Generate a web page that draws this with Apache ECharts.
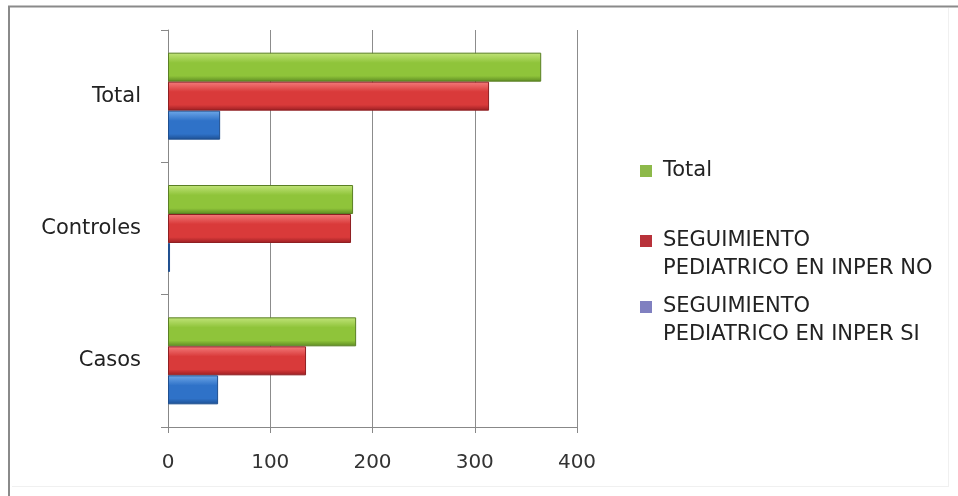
<!DOCTYPE html>
<html>
<head>
<meta charset="utf-8">
<style>
  html, body { margin: 0; padding: 0; background: #ffffff; }
  #chart { width: 958px; height: 496px; }
</style>
<script src="https://cdn.jsdelivr.net/npm/echarts@6/dist/echarts.min.js"></script>
</head>
<body>
<div id="chart"></div>
<script>
// Categories (bottom to top) and series values
const categories = ['Casos', 'Controles', 'Total'];
const seguimientoSi = [49, 2, 51];
const seguimientoNo = [135, 179, 314];
const totales = [184, 181, 365];
const xTicks = [0, 100, 200, 300, 400];

const NAME_SI = 'SEGUIMIENTO PEDIATRICO EN INPER SI';
const NAME_NO = 'SEGUIMIENTO PEDIATRICO EN INPER NO';
const NAME_TOTAL = 'Total';

const FONT = '"DejaVu Sans", "Liberation Sans", sans-serif';

function barGradient(light, mid, dark) {
  return new echarts.graphic.LinearGradient(0, 0, 0, 1, [
    { offset: 0, color: light },
    { offset: 0.35, color: mid },
    { offset: 0.8, color: mid },
    { offset: 1, color: dark }
  ]);
}

const chart = echarts.init(document.getElementById('chart'), null, { renderer: 'canvas' });

// Two-line legend labels: a leading blank line keeps the marker beside the first line
function twoLine(name) {
  return '\n' + name.replace('SEGUIMIENTO ', 'SEGUIMIENTO\n');
}

const legendText = { fontFamily: FONT, fontSize: 21, color: '#222', lineHeight: 28, padding: [0, 0, 0, 6] };

const option = {
  backgroundColor: '#ffffff',
  animation: false,
  graphic: [
    { type: 'line', shape: { x1: 8, y1: 6.5, x2: 958, y2: 6.5 }, style: { stroke: '#8a8a8a', lineWidth: 2 } },
    { type: 'line', shape: { x1: 9, y1: 6, x2: 9, y2: 496 }, style: { stroke: '#8a8a8a', lineWidth: 2 } },
    { type: 'line', shape: { x1: 948.5, y1: 8, x2: 948.5, y2: 487 }, style: { stroke: '#f0f0f0', lineWidth: 1 } },
    { type: 'line', shape: { x1: 12, y1: 486.5, x2: 948, y2: 486.5 }, style: { stroke: '#f0f0f0', lineWidth: 1 } }
  ],
  legend: [
    {
      left: 635, top: 152, orient: 'vertical',
      icon: 'rect', itemWidth: 12, itemHeight: 12,
      data: [{ name: NAME_TOTAL, itemStyle: { color: '#8db94a', borderWidth: 0 } }],
      textStyle: legendText,
      selectedMode: false
    },
    {
      left: 635, top: 194, orient: 'vertical',
      icon: 'rect', itemWidth: 12, itemHeight: 12,
      data: [{ name: NAME_NO, itemStyle: { color: '#b8323a', borderWidth: 0 } }],
      formatter: twoLine,
      textStyle: legendText,
      selectedMode: false
    },
    {
      left: 635, top: 260, orient: 'vertical',
      icon: 'rect', itemWidth: 12, itemHeight: 12,
      data: [{ name: NAME_SI, itemStyle: { color: '#8080c0', borderWidth: 0 } }],
      formatter: twoLine,
      textStyle: legendText,
      selectedMode: false
    }
  ],
  grid: { left: 168, top: 30, width: 409, height: 397, containLabel: false },
  xAxis: {
    type: 'value',
    min: xTicks[0],
    max: xTicks[xTicks.length - 1],
    interval: 100,
    axisLine: { show: true, lineStyle: { color: '#888888', width: 1 } },
    axisTick: { show: true, length: 6, lineStyle: { color: '#888888' } },
    axisLabel: { fontFamily: FONT, fontSize: 20, color: '#333', margin: 26 },
    splitLine: { show: true, lineStyle: { color: '#8c8c8c', width: 1 } }
  },
  yAxis: {
    type: 'category',
    data: categories,
    axisLine: { show: true, lineStyle: { color: '#888888', width: 1 } },
    axisTick: { show: true, length: 7, lineStyle: { color: '#888888' } },
    axisLabel: { fontFamily: FONT, fontSize: 21, color: '#222', margin: 27 },
    splitLine: { show: false }
  },
  // Series order gives Total on top, then NO, then SI within each category
  series: [
    {
      name: NAME_TOTAL, type: 'bar', data: totales,
      barWidth: 29, barGap: '0%',
      itemStyle: {
        color: barGradient('#c2e47a', '#8fc43a', '#5d8a22'),
        borderColor: '#5a7f24', borderWidth: 1
      }
    },
    {
      name: NAME_NO, type: 'bar', data: seguimientoNo,
      barWidth: 29, barGap: '0%',
      itemStyle: {
        color: barGradient('#f47c7c', '#d93a3a', '#9a1e22'),
        borderColor: '#8e1f22', borderWidth: 1
      }
    },
    {
      name: NAME_SI, type: 'bar', data: seguimientoSi,
      barWidth: 29, barGap: '0%',
      itemStyle: {
        color: barGradient('#6fa8e8', '#2f72c8', '#1d4f92'),
        borderColor: '#1f4f8f', borderWidth: 1
      }
    }
  ]
};

chart.setOption(option);
</script>
</body>
</html>
